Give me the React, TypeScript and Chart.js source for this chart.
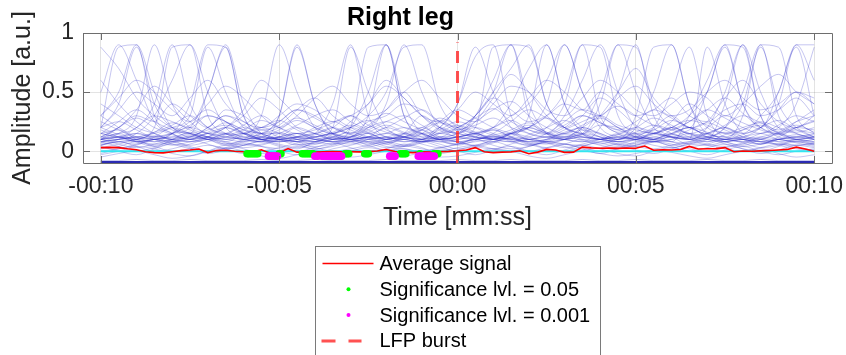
import React, { useEffect, useRef } from 'react';
import { Chart, registerables } from 'chart.js';

Chart.register(...registerables);

// ---------- data ----------
const TITLE = 'Right leg';
const X_LABEL = 'Time [mm:ss]';
const Y_LABEL = 'Amplitude [a.u.]';
const X_TICKS = [-10, -5, 0, 5, 10];
const Y_TICKS = [0, 0.5, 1];

const TIME = [-10, -9.5, -9, -8.5, -8, -7.5, -7, -6.5, -6, -5.5, -5, -4.5, -4, -3.5, -3, -2.5, -2, -1.5, -1, -0.5, 0,
  0.5, 1, 1.5, 2, 2.5, 3, 3.5, 4, 4.5, 5, 5.5, 6, 6.5, 7, 7.5, 8, 8.5, 9, 9.5, 10];

const TRIALS = [
  [.88,.7,.45,.3,.2, .15,.12,.1,.08,.1, .12,.1,.08,.06,.08, .1,.12,.15,.1,.08, .06,.08,.1,.12,.1, .08,.06,.05,.08,.1, .12,.1,.08,.06,.05, .08,.1,.08,.06,.05, .06],
  [.2,.88,.9,.3,.15, .1,.12,.08,.05,.06, .1,.15,.12,.08,.1, .12,.2,.15,.1,.2, .4,.88,.5,.2,.1, .08,.1,.12,.1,.08, .06,.1,.15,.2,.12, .1,.08,.06,.1,.12, .1],
  [.1,.15,.3,.9,.4, .2,.15,.12,.1,.08, .12,.15,.1,.08,.06, .1,.12,.08,.1,.15, .12,.1,.08,.15,.2, .3,.5,.9,.88,.3, .15,.1,.12,.1,.08, .1,.12,.15,.1,.08, .06],
  [.05,.08,.1,.2,.88, .9,.3,.15,.1,.12, .1,.08,.12,.15,.2, .15,.1,.12,.08,.1, .12,.15,.1,.08,.1, .12,.15,.2,.15,.1, .3,.88,.9,.4,.2, .15,.1,.08,.1,.12, .1],
  [.1,.12,.08,.1,.15, .4,.9,.88,.3,.12, .1,.08,.06,.1,.12, .3,.9,.4,.15,.1, .08,.1,.12,.1,.08, .1,.15,.12,.1,.08, .1,.12,.15,.1,.2, .5,.9,.3,.12,.1, .08],
  [.08,.1,.12,.1,.08, .1,.15,.2,.15,.3, .9,.5,.2,.12,.1, .08,.1,.12,.15,.1, .12,.2,.88,.9,.3, .15,.1,.08,.1,.12, .1,.08,.1,.12,.15, .1,.12,.2,.4,.9, .6],
  [.15,.12,.1,.08,.1, .12,.1,.15,.12,.1, .08,.1,.12,.15,.2, .3,.5,.88,.9,.4, .2,.15,.12,.1,.08, .1,.12,.15,.4,.9, .5,.2,.12,.1,.88, .4,.15,.1,.08,.1, .12],
  [.1,.08,.06,.1,.12, .1,.15,.12,.1,.08, .1,.12,.15,.4,.9, .3,.12,.1,.08,.1, .12,.15,.1,.12,.3, .9,.4,.15,.1,.12, .1,.08,.1,.15,.12, .1,.3,.9,.88,.3, .15],
  [.06,.08,.1,.12,.15, .2,.5,.9,.4,.15, .1,.12,.1,.08,.2, .88,.9,.3,.12,.1, .08,.1,.12,.15,.1, .12,.1,.08,.2,.5, .9,.3,.15,.12,.1, .08,.1,.12,.1,.08, .1],
  [.3,.5,.9,.5,.2, .15,.12,.1,.15,.2, .15,.1,.08,.1,.12, .15,.1,.12,.08,.1, .15,.2,.15,.1,.12, .2,.4,.9,.3,.15, .1,.2,.5,.88,.3, .12,.1,.15,.2,.4, .88],
  [.12,.1,.15,.3,.6, .9,.5,.2,.12,.1, .08,.1,.12,.15,.1, .12,.1,.15,.3,.2, .15,.3,.6,.9,.4, .15,.1,.12,.1,.08, .1,.15,.2,.15,.1, .4,.9,.5,.2,.15, .1],
  [.2,.35,.5,.4,.3, .45,.6,.4,.25,.2, .3,.4,.35,.25,.3, .4,.55,.45,.3,.25, .35,.5,.4,.3,.45, .6,.5,.35,.3,.45, .55,.4,.3,.35,.5, .6,.45,.35,.4,.5, .45],
  [.1,.2,.3,.25,.4, .3,.2,.35,.3,.2, .25,.35,.3,.2,.15, .25,.3,.4,.35,.25, .2,.3,.45,.35,.25, .3,.4,.35,.5,.4, .3,.35,.45,.3,.25, .35,.4,.3,.35,.45, .3],
  [.08,.1,.12,.1,.15, .2,.15,.1,.12,.15, .3,.88,.4,.15,.1, .12,.1,.08,.1,.12, .15,.3,.5,.7,.9, .4,.2,.15,.1,.12, .15,.1,.08,.3,.6, .9,.88,.3,.15,.1, .12],
  [.15,.12,.2,.3,.25, .2,.3,.25,.15,.1, .12,.2,.15,.1,.12, .2,.25,.2,.15,.1, .12,.15,.2,.3,.4, .6,.9,.5,.25,.2, .15,.2,.3,.2,.5, .88,.4,.2,.15,.2, .25],
  [.05,.1,.15,.1,.05, .08,.12,.2,.15,.1, .05,.02,.08,.12,.1, .06,.1,.15,.2,.12, .08,.05,.1,.15,.12, .08,.1,.18,.12,.06, .04,.08,.12,.1,.15, .2,.12,.08,.06,.1, .08],
  [0,.02,.05,.1,.08, .04,0,.02,.06,.04, .02,0,-.02,.02,.05, .08,.04,.02,0,.03, .06,.1,.05,.02,.04, .08,.06,.03,0,.02, .05,.08,.06,.02,0, .03,.06,.1,.05,.02, 0],
  [.2,.25,.18,.12,.15, .22,.3,.25,.18,.15, .2,.28,.22,.15,.12, .18,.25,.3,.22,.15, .18,.22,.28,.2,.15, .12,.18,.25,.3,.22, .18,.15,.2,.26,.22, .15,.18,.25,.2,.16, .2],
  [-.05,-.02,0,-.03,-.06, -.04,0,.03,0,-.04, -.06,-.03,0,-.02,-.05, -.03,0,.02,-.02,-.05, -.04,-.01,.02,0,-.04, -.06,-.03,0,-.02,-.04, -.02,.01,-.01,-.04,-.06, -.03,0,.02,-.02,-.05, -.03],
  [.1,.06,.03,.06,.1, .14,.1,.05,.08,.12, .16,.1,.06,.1,.14, .1,.06,.04,.08,.12, .1,.14,.18,.12,.08, .06,.1,.14,.1,.06, .1,.14,.2,.14,.1, .08,.1,.06,.1,.14, .1],
  [.3,.2,.12,.08,.15, .25,.35,.25,.15,.1, .15,.22,.3,.35,.25, .18,.12,.1,.15,.25, .35,.28,.2,.15,.1, .15,.25,.35,.3,.2, .12,.1,.18,.25,.35, .28,.2,.15,.22,.3, .25],
  [.02,.04,.08,.04,0, .02,.05,.02,-.02,0, .03,.06,.03,0,.02, .05,.08,.05,.02,0, .03,.05,.02,0,.04, .07,.04,.01,.03,.06, .04,.02,.05,.08,.05, .02,0,.03,.06,.03, .01],
  [.15,.18,.1,.06,.08, .12,.18,.22,.16,.1, .08,.12,.2,.25,.18, .12,.08,.12,.18,.24, .2,.14,.1,.08,.14, .2,.26,.18,.12,.1, .16,.22,.18,.12,.08, .14,.2,.24,.16,.12, .14],
  [.08,.04,0,.03,.07, .1,.06,.02,.05,.09, .12,.08,.04,.06,.1, .07,.03,.05,.09,.06, .02,.04,.08,.11,.07, .03,.06,.1,.07,.04, .08,.12,.08,.04,.06, .1,.07,.03,.05,.09, .06],
  [.4,.3,.2,.15,.1, .12,.2,.3,.25,.18, .22,.35,.45,.3,.2, .15,.2,.28,.35,.25, .18,.25,.35,.42,.3, .2,.15,.22,.3,.38, .3,.22,.18,.25,.35, .45,.32,.2,.15,.25, .35],
  [-.08,-.08,-.07,-.08,-.08, -.07,-.08,-.08,-.08,-.07, -.08,-.08,-.07,-.08,-.08, -.08,-.07,-.08,-.08,-.08, -.07,-.08,-.08,-.07,-.08, -.08,-.08,-.07,-.08,-.08, -.07,-.08,-.08,-.08,-.07, -.08,-.08,-.07,-.08,-.08, -.08],
  [.05,.08,.04,0,.02, .06,.1,.07,.03,.05, .09,.06,.02,.04,.08, .12,.08,.04,.07,.11, .08,.04,.02,.06,.1, .07,.03,.06,.1,.14, .09,.05,.03,.07,.11, .08,.04,.06,.1,.07, .04],
  [.12,.2,.28,.2,.14, .1,.16,.24,.18,.12, .18,.26,.2,.14,.1, .16,.22,.16,.12,.18, .25,.2,.14,.18,.24, .16,.12,.2,.28,.2, .14,.18,.26,.2,.14, .12,.18,.22,.16,.2, .18],
  [-.03,0,.04,.02,-.02, -.04,0,.05,.02,-.02, 0,.04,.01,-.03,0, .03,0,-.04,-.01,.02, 0,-.03,.01,.04,0, -.03,.01,.05,.02,-.02, -.04,0,.03,0,-.03, .01,.04,0,-.03,0, .02],
  [.18,.12,.08,.12,.2, .15,.1,.14,.22,.3, .2,.12,.08,.14,.2, .26,.18,.12,.1,.16, .22,.16,.1,.14,.2, .28,.2,.14,.1,.14, .2,.16,.12,.18,.24, .18,.12,.1,.16,.22, .16],
  [.6,.4,.25,.15,.1, .08,.12,.2,.3,.45, .35,.2,.15,.1,.12, .2,.35,.5,.3,.18, .12,.1,.15,.25,.35, .28,.2,.3,.45,.35, .22,.15,.25,.4,.3, .2,.15,.2,.35,.5, .4],
  [.03,.06,.1,.13,.09, .05,.08,.12,.15,.1, .06,.03,.07,.11,.08, .04,.07,.1,.06,.03, .06,.1,.13,.09,.05, .08,.12,.09,.05,.03, .07,.1,.14,.1,.06, .04,.07,.11,.08,.05, .07],
  [.25,.18,.12,.16,.22, .3,.2,.14,.18,.26, .2,.15,.18,.24,.3, .22,.16,.12,.18,.28, .22,.16,.2,.26,.18, .14,.2,.3,.24,.16, .2,.28,.22,.15,.2, .3,.24,.18,.14,.2, .26],
  [.5,.9,.6,.25,.15, .1,.12,.15,.1,.08, .3,.9,.4,.15,.12, .1,.12,.1,.08,.15, .2,.3,.5,.9,.88, .4,.2,.12,.1,.15, .12,.1,.15,.2,.12, .1,.08,.12,.15,.1, .12],
  [.12,.15,.2,.4,.9, .4,.2,.15,.1,.12, .1,.08,.1,.2,.88, .5,.2,.12,.1,.08, .1,.12,.1,.15,.2, .15,.3,.6,.9,.5, .2,.15,.12,.1,.15, .2,.15,.3,.5,.9, .9],
  [.08,.1,.12,.15,.2, .3,.88,.5,.2,.15, .1,.12,.15,.1,.08, .12,.15,.2,.15,.1, .12,.15,.2,.4,.7, .9,.4,.2,.15,.1, .2,.5,.9,.4,.15, .12,.1,.08,.1,.12, .15],
  [.1,.12,.08,.1,.12, .15,.1,.12,.15,.1, .12,.15,.1,.12,.2, .5,.9,.3,.15,.2, .4,.8,.9,.3,.15, .12,.1,.15,.12,.1, .12,.15,.2,.3,.5, .9,.4,.2,.5,.88, .3],
  [.2,.4,.88,.4,.2, .15,.5,.88,.3,.15, .15,.12,.1,.08,.1, .12,.15,.12,.1,.2, .15,.12,.1,.15,.2, .4,.9,.5,.2,.12, .1,.15,.12,.1,.12, .2,.5,.9,.3,.15, .12],
  [.3,.45,.6,.5,.35, .25,.4,.55,.45,.3, .2,.3,.45,.55,.4, .3,.35,.5,.6,.45, .3,.25,.4,.55,.5, .35,.3,.45,.6,.5, .35,.3,.4,.5,.45, .3,.4,.55,.65,.5, .4],
  [.1,.15,.08,.04,.1, .16,.12,.06,.1,.18, .12,.08,.14,.2,.14, .08,.06,.12,.18,.1, .06,.12,.18,.12,.06, .1,.16,.2,.14,.08, .12,.18,.12,.06,.1, .16,.1,.06,.12,.18, .12],
  [.04,0,-.03,.02,.06, .03,-.02,.01,.05,.08, .04,0,.03,.07,.03, -.01,.02,.06,.03,-.02, .01,.05,.08,.04,0, .03,.06,.02,-.02,.02, .05,.08,.04,0,.03, .06,.02,-.02,.01,.05, .03],
  [.15,.25,.35,.25,.18, .12,.2,.3,.22,.15, .25,.35,.28,.2,.15, .22,.32,.25,.18,.12, .2,.28,.36,.25,.18, .15,.22,.3,.24,.18, .25,.35,.28,.2,.15, .22,.3,.24,.18,.25, .3],
  [.07,.12,.09,.05,.08, .13,.1,.06,.09,.14, .1,.05,.08,.12,.16, .11,.07,.1,.14,.09, .05,.09,.13,.08,.05, .09,.14,.1,.06,.1, .13,.09,.05,.08,.12, .08,.05,.1,.14,.1, .07],
  [-.02,.02,.06,.1,.06, .02,-.01,.03,.07,.04, 0,-.03,.01,.05,.09, .05,.01,.04,.08,.04, 0,.03,.07,.11,.06, .02,0,.04,.08,.05, .01,-.02,.02,.06,.1, .06,.02,0,.04,.08, .05],
  [.12,.2,.35,.55,.4, .25,.15,.2,.35,.6, .45,.3,.2,.15,.25, .4,.6,.45,.3,.2, .15,.25,.45,.65,.5, .3,.2,.15,.3,.5, .7,.45,.3,.2,.25, .45,.6,.4,.25,.2, .3],
  [.1,.12,.15,.12,.1, .08,.1,.15,.2,.15, .1,.12,.15,.2,.3, .2,.4,.9,.5,.2, .15,.12,.1,.15,.2, .15,.12,.2,.5,.9, .88,.4,.2,.15,.12, .2,.4,.88,.4,.2, .15],
  [.2,.14,.1,.16,.24, .18,.12,.08,.14,.2, .26,.18,.12,.16,.22, .16,.1,.14,.2,.26, .18,.12,.1,.16,.22, .16,.1,.14,.22,.18, .12,.08,.14,.2,.16, .1,.14,.2,.26,.18, .12],
];

const FLOOR_LEVEL = -0.095;
const ZERO_LEVEL = 0;

const AVG_TIME = [-10,-9.75,-9.5,-9.25,-9,-8.75,-8.5,-8.25,-8,-7.75,-7.5,-7.25,-7,-6.75,-6.5,-6.25,-6,-5.75,-5.5,-5.25,
  -5,-4.75,-4.5,-4.25,-4,-3.75,-3.5,-3.25,-3,-2.75,-2.5,-2.25,-2,-1.75,-1.5,-1.25,-1,-0.75,-0.5,-0.25,
  0,0.25,0.5,0.75,1,1.25,1.5,1.75,2,2.25,2.5,2.75,3,3.25,3.5,3.75,4,4.25,4.5,4.75,
  5,5.25,5.5,5.75,6,6.25,6.5,6.75,7,7.25,7.5,7.75,8,8.25,8.5,8.75,9,9.25,9.5,9.75,10];
const AVG_SIGNAL = [
  .030,.032,.030,.020,.012,-.005,-.012,-.014,-.005,.005,
  .010,.018,-.012,.005,.008,.000,-.005,-.008,.012,-.018,
  -.015,.022,-.008,-.010,-.008,-.005,-.003,-.005,-.004,-.006,
  -.004,.002,.014,-.003,-.008,-.012,-.006,-.008,-.004,-.002,
  .003,.010,.030,-.005,-.012,-.008,-.006,.004,-.022,-.008,
  .015,.010,-.010,-.008,.034,.028,.025,.026,.024,.027,
  .025,.044,.008,.012,.010,.014,.040,.018,.020,.022,
  .030,-.005,.002,.000,.003,.006,.010,.015,.034,.018,
  .000];

const SIG05_TIME = [-5.9,-5.85,-5.8,-5.75,-5.7,-5.65,-5.6,-5.0,-4.95,-4.35,-4.3,-4.25,-4.2,-4.15,-4.1,-4.05,
  -3.15,-3.1,-3.05,-2.6,-2.55,-2.5,-1.6,-1.55,-1.5,-1.45,-1.05,-0.65,-0.6,-0.55];
const SIG05_LEVEL = -0.022;
const SIG001_TIME = [-5.3,-5.25,-5.2,-5.15,-5.1,-5.05,-4.0,-3.92,-3.8,-3.75,-3.7,-3.65,-3.6,-3.55,-3.5,-3.45,-3.4,
  -3.35,-3.3,-3.25,-1.9,-1.85,-1.8,-1.75,-1.1,-1.05,-1.0,-0.95,-0.9,-0.85,-0.8,-0.75,-0.7,-0.65];
const SIG001_LEVEL = -0.042;

const BURST_TIME = 0;
const BURST_RANGE = [-0.1, 0.92];

const LEGEND_LABELS = ['Average signal', 'Significance lvl. = 0.05', 'Significance lvl. = 0.001', 'LFP burst'];

// ---------- styles ----------
const FONT = '"Liberation Sans", Arial, Helvetica, sans-serif';
const TRACE_COLOR = 'rgba(40,40,200,0.27)';
const AXIS_COLOR = '#262626';
const RED = '#ff0000';
const GREEN = '#00ff00';
const MAGENTA = '#ff00ff';
const BURST_COLOR = 'rgba(255,50,50,0.85)';
const CYAN = '#33e6f0';

function fmtTime(v: number): string {
  const a = Math.abs(Math.round(v));
  const mm = Math.floor(a / 60);
  const ss = a % 60;
  const s = String(mm).padStart(2, '0') + ':' + String(ss).padStart(2, '0');
  return (v < 0 ? '-' : '') + s;
}

const titlePlugin = {
  id: 'mTitle',
  afterDraw(chart: any) {
    const { ctx, chartArea } = chart;
    ctx.save();
    ctx.font = `bold 25px ${FONT}`;
    ctx.fillStyle = '#000';
    ctx.textAlign = 'center';
    ctx.textBaseline = 'alphabetic';
    ctx.fillText(TITLE, (chartArea.left + chartArea.right) / 2 - 57, chartArea.top - 8);
    ctx.restore();
  },
};

const framePlugin = {
  id: 'mFrame',
  afterDatasetsDraw(chart: any) {
    const { ctx, chartArea, scales } = chart;
    const { left, right, top, bottom } = chartArea;
    ctx.save();
    ctx.strokeStyle = '#6e6e6e';
    ctx.lineWidth = 1;
    ctx.beginPath();
    ctx.rect(Math.round(left) + 0.5, Math.round(top) + 0.5, Math.round(right - left), Math.round(bottom - top));
    ctx.stroke();
    const L = 7;
    ctx.beginPath();
    X_TICKS.forEach((v) => {
      const px = Math.round(scales.x.getPixelForValue(v)) + 0.5;
      ctx.moveTo(px, bottom); ctx.lineTo(px, bottom - L);
      ctx.moveTo(px, top); ctx.lineTo(px, top + L);
    });
    Y_TICKS.forEach((v) => {
      const py = Math.round(scales.y.getPixelForValue(v)) + 0.5;
      ctx.moveTo(left, py); ctx.lineTo(left + L, py);
      ctx.moveTo(right, py); ctx.lineTo(right - L, py);
    });
    ctx.stroke();
    ctx.restore();
  },
};

const legendPlugin = {
  id: 'mLegend',
  afterDraw(chart: any) {
    const { ctx, chartArea } = chart;
    ctx.save();
    ctx.font = `20px ${FONT}`;
    const tw = Math.max(...LEGEND_LABELS.map((l) => ctx.measureText(l).width));
    const textOff = 64;
    const w = textOff + tw + 10;
    const cx = (chartArea.left + chartArea.right) / 2;
    const x0 = Math.round(cx - w / 2) + 0.5;
    const y0 = Math.round(chartArea.bottom + 83) + 0.5;
    ctx.fillStyle = '#fff';
    ctx.fillRect(x0, y0, w, 200);
    ctx.strokeStyle = '#7a7a7a';
    ctx.lineWidth = 1;
    ctx.strokeRect(x0, y0, Math.round(w), 200);
    const rowY = (i: number) => y0 + 17 + i * 25.8;
    ctx.strokeStyle = RED;
    ctx.lineWidth = 1.5;
    ctx.beginPath();
    ctx.moveTo(x0 + 7, rowY(0)); ctx.lineTo(x0 + 58, rowY(0));
    ctx.stroke();
    ctx.fillStyle = GREEN;
    ctx.beginPath(); ctx.arc(x0 + 33, rowY(1), 2, 0, Math.PI * 2); ctx.fill();
    ctx.fillStyle = MAGENTA;
    ctx.beginPath(); ctx.arc(x0 + 33, rowY(2), 2, 0, Math.PI * 2); ctx.fill();
    ctx.strokeStyle = BURST_COLOR;
    ctx.lineWidth = 3;
    ctx.beginPath();
    ctx.moveTo(x0 + 6, rowY(3)); ctx.lineTo(x0 + 20, rowY(3));
    ctx.moveTo(x0 + 33, rowY(3)); ctx.lineTo(x0 + 46, rowY(3));
    ctx.stroke();
    ctx.fillStyle = '#000';
    ctx.textAlign = 'left';
    ctx.textBaseline = 'middle';
    LEGEND_LABELS.forEach((l, i) => ctx.fillText(l, x0 + textOff, rowY(i) + 1));
    ctx.restore();
  },
};

export default function App() {
  const ref = useRef<HTMLCanvasElement | null>(null);

  useEffect(() => {
    if (!ref.current) return;
    const traceSets = TRIALS.map((vals, i) => ({
      label: 'trial ' + (i + 1),
      data: vals.map((v, k) => ({ x: TIME[k], y: v })),
      borderColor: TRACE_COLOR,
      borderWidth: 1,
      pointRadius: 0,
      cubicInterpolationMode: 'monotone' as const,
      order: 20,
    }));
    const datasets: any[] = [
      ...traceSets,
      {
        label: 'floor',
        data: [{ x: TIME[0], y: FLOOR_LEVEL }, { x: TIME[TIME.length - 1], y: FLOOR_LEVEL }],
        borderColor: 'rgba(20,20,170,0.9)',
        borderWidth: 3,
        pointRadius: 0,
        order: 15,
      },
      {
        label: 'zero',
        data: [{ x: TIME[0], y: ZERO_LEVEL }, { x: TIME[TIME.length - 1], y: ZERO_LEVEL }],
        borderColor: CYAN,
        borderWidth: 2,
        pointRadius: 0,
        order: 10,
      },
      {
        label: LEGEND_LABELS[0],
        data: AVG_SIGNAL.map((v, k) => ({ x: AVG_TIME[k], y: v })),
        borderColor: RED,
        borderWidth: 1.6,
        pointRadius: 0,
        order: 8,
      },
      {
        label: LEGEND_LABELS[1],
        data: SIG05_TIME.map((t) => ({ x: t, y: SIG05_LEVEL })),
        showLine: false,
        pointRadius: 3.8,
        pointBorderWidth: 0,
        pointBackgroundColor: GREEN,
        borderColor: GREEN,
        order: 6,
      },
      {
        label: LEGEND_LABELS[2],
        data: SIG001_TIME.map((t) => ({ x: t, y: SIG001_LEVEL })),
        showLine: false,
        pointRadius: 3.8,
        pointBorderWidth: 0,
        pointBackgroundColor: MAGENTA,
        borderColor: MAGENTA,
        order: 5,
      },
      {
        label: LEGEND_LABELS[3],
        data: [{ x: BURST_TIME, y: BURST_RANGE[0] }, { x: BURST_TIME, y: BURST_RANGE[1] }],
        borderColor: BURST_COLOR,
        borderWidth: 3,
        borderDash: [12, 8],
        pointRadius: 0,
        order: 1,
      },
    ];

    const chart = new Chart(ref.current, {
      type: 'line',
      data: { datasets },
      options: {
        animation: false,
        responsive: false,
        maintainAspectRatio: false,
        events: [],
        layout: { padding: { left: 0, right: 14, top: 33, bottom: 120 } },
        plugins: { legend: { display: false }, title: { display: false }, tooltip: { enabled: false } },
        scales: {
          x: {
            type: 'linear',
            min: -10.5,
            max: 10.5,
            afterFit: (s: any) => { s.height = 72; s.paddingLeft = 0; s.paddingRight = 0; },
            afterBuildTicks: (s: any) => { s.ticks = X_TICKS.map((v) => ({ value: v })); },
            grid: { color: 'rgba(38,38,38,0.13)', drawTicks: false },
            border: { display: false },
            ticks: {
              padding: 10,
              color: AXIS_COLOR,
              font: { family: FONT, size: 23 },
              callback: (v: any) => fmtTime(Number(v)),
              maxRotation: 0,
              autoSkip: false,
            },
            title: {
              display: true,
              text: X_LABEL,
              color: AXIS_COLOR,
              font: { family: FONT, size: 25 },
              padding: { top: 0, bottom: 2 },
            },
          },
          y: {
            type: 'linear',
            min: -0.1,
            max: 1,
            afterFit: (s: any) => { s.width = 83; s.paddingTop = 0; s.paddingBottom = 0; },
            afterBuildTicks: (s: any) => { s.ticks = Y_TICKS.map((v) => ({ value: v })); },
            grid: { color: 'rgba(38,38,38,0.13)', drawTicks: false },
            border: { display: false },
            ticks: {
              padding: 9,
              color: AXIS_COLOR,
              font: { family: FONT, size: 23 },
              callback: (v: any) => String(v),
              autoSkip: false,
            },
            title: {
              display: true,
              text: Y_LABEL,
              color: AXIS_COLOR,
              font: { family: FONT, size: 25 },
              padding: { top: 8, bottom: 0 },
            },
          },
        },
      },
      plugins: [titlePlugin, framePlugin, legendPlugin],
    } as any);
    return () => chart.destroy();
  }, []);

  return (
    <div style={{ position: 'absolute', left: 0, top: 0, width: 846, height: 355, background: '#fff' }}>
      <canvas ref={ref} width={846} height={355} style={{ width: 846, height: 355, display: 'block' }} />
    </div>
  );
}
